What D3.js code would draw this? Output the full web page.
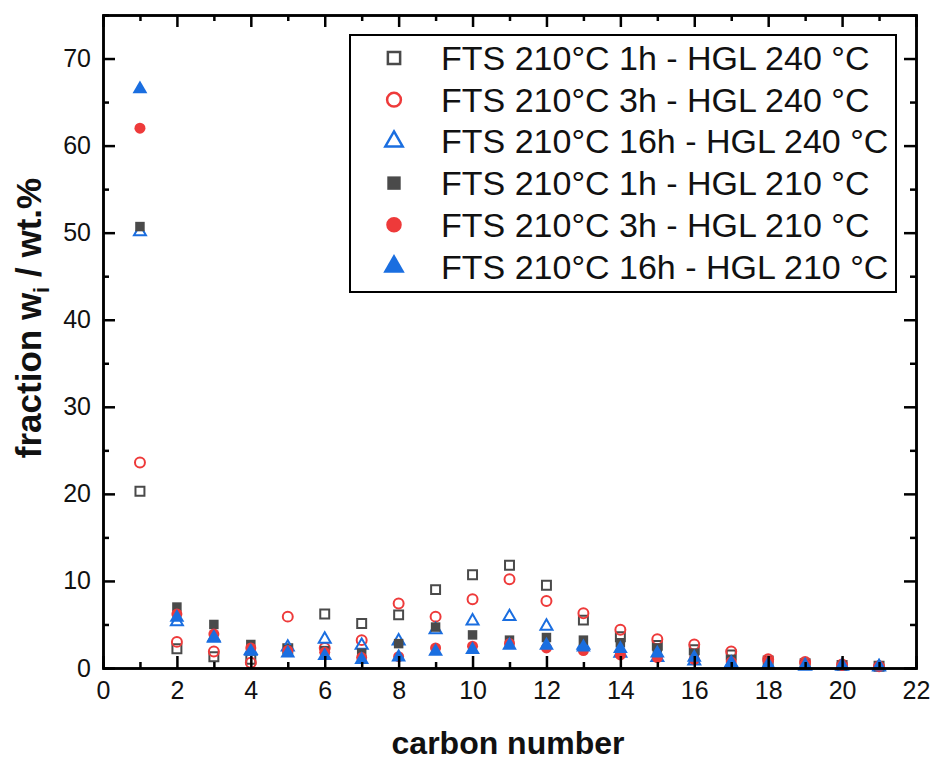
<!DOCTYPE html>
<html>
<head>
<meta charset="utf-8">
<script src="https://cdn.jsdelivr.net/npm/d3@7"></script>
<style>
  body { margin: 0; background: #fff; }
  svg { display: block; font-family: "Liberation Sans", Arial, sans-serif; }
</style>
</head>
<body>
<svg id="chart"></svg>
<script>
// carbon numbers and fractions (wt.%)
const carbon = [1, 2, 3, 4, 5, 6, 7, 8, 9, 10, 11, 12, 13, 14, 15, 16, 17, 18, 19, 20, 21]
const h1_240  = [20.3, 2.2, 1.3, 1.0, 2.2, 6.2, 5.1, 6.1, 9.0, 10.7, 11.8, 9.5, 5.5, 3.6, 2.6, 2.1, 1.5, 0.8, 0.5, 0.3, 0.2]
const h3_240  = [23.6, 3.0, 1.9, 0.6, 5.9, 2.3, 3.2, 7.4, 5.9, 7.9, 10.2, 7.7, 6.3, 4.4, 3.3, 2.7, 1.9, 1.0, 0.7, 0.4, 0.2]
const h16_240 = [50.1, 5.3, 3.4, 2.0, 2.4, 3.3, 2.6, 3.1, 4.4, 5.4, 5.9, 4.8, 2.6, 1.7, 1.2, 0.8, 0.5, 0.3, 0.2, 0.2, 0.1]
const h1_210  = [50.7, 7.0, 5.0, 2.7, 2.1, 2.0, 1.7, 2.8, 4.7, 3.8, 3.2, 3.5, 3.2, 2.9, 2.3, 1.7, 1.0, 0.6, 0.4, 0.3, 0.2]
const h3_210  = [62.0, 6.2, 3.9, 2.3, 2.0, 1.8, 1.2, 1.3, 2.3, 2.5, 2.8, 2.3, 2.0, 1.5, 1.2, 1.0, 0.7, 0.8, 0.5, 0.3, 0.2]
const h16_210 = [66.5, 5.8, 3.5, 1.9, 1.7, 1.4, 0.95, 1.25, 1.9, 2.1, 2.6, 2.6, 2.4, 2.2, 1.7, 1.2, 0.6, 0.4, 0.3, 0.3, 0.2]

const labels = [
    'FTS 210°C 1h - HGL 240 °C',
    'FTS 210°C 3h - HGL 240 °C',
    'FTS 210°C 16h - HGL 240 °C',
    'FTS 210°C 1h - HGL 210 °C',
    'FTS 210°C 3h - HGL 210 °C',
    'FTS 210°C 16h - HGL 210 °C'
]
const xTicks = d3.range(0, 23, 2)
const xMinor = d3.range(1, 22, 2)
const yTicks = d3.range(0, 71, 10)
const yMinor = d3.range(5, 76, 10)

const gray = '#4a4a4a'
const red = '#ee3a3a'
const blue = '#1a6ee0'

const series = [
    { name: labels[0], values: h1_240,  shape: d3.symbolSquare,   color: gray, open: true,  size: 80,  lsize: 150 },
    { name: labels[1], values: h3_240,  shape: d3.symbolCircle,   color: red,  open: true,  size: 78,  lsize: 150 },
    { name: labels[2], values: h16_240, shape: d3.symbolTriangle, color: blue, open: true,  size: 62,  lsize: 130 },
    { name: labels[3], values: h1_210,  shape: d3.symbolSquare,   color: gray, open: false, size: 90,  lsize: 180 },
    { name: labels[4], values: h3_210,  shape: d3.symbolCircle,   color: red,  open: false, size: 95,  lsize: 190 },
    { name: labels[5], values: h16_210, shape: d3.symbolTriangle, color: blue, open: false, size: 95,  lsize: 200 }
]

const W = 934
const H = 760
const margin = { top: 15, right: 18, bottom: 92, left: 103 }
const w = W - margin.left - margin.right
const h = H - margin.top - margin.bottom

const svg = d3.select('#chart')
    .attr('width', W)
    .attr('height', H)

const g = svg.append('g')
    .attr('transform', `translate(${margin.left}, ${margin.top})`)

const xScale = d3.scaleLinear().domain([0, 22]).range([0, w])
const yScale = d3.scaleLinear().domain([0, 75]).range([h, 0])

// points
series.forEach(s => {
    g.append('g')
        .selectAll('path')
        .data(s.values)
        .join('path')
        .attr('transform', (v, i) => `translate(${xScale(carbon[i])}, ${yScale(v)})`)
        .attr('d', d3.symbol().type(s.shape).size(s.size))
        .attr('fill', s.open ? 'none' : s.color)
        .attr('stroke', s.open ? s.color : 'none')
        .attr('stroke-width', 2)
})

// axes, ticks pointing inward on all four sides
const axisStyle = sel => {
    sel.selectAll('.domain').attr('stroke', '#000').attr('stroke-width', 2.5)
    sel.selectAll('.tick line').attr('stroke', '#000').attr('stroke-width', 2.5)
    sel.selectAll('text').attr('fill', '#111').style('font-size', '25px')
}

g.append('g')
    .attr('transform', `translate(0, ${h})`)
    .call(d3.axisBottom(xScale).tickValues(xTicks).tickSize(-12).tickSizeOuter(0).tickPadding(13))
    .call(axisStyle)
g.append('g')
    .attr('transform', `translate(0, ${h})`)
    .call(d3.axisBottom(xScale).tickValues(xMinor).tickSize(-6).tickFormat(''))
    .call(axisStyle)
g.append('g')
    .call(d3.axisTop(xScale).tickValues(xTicks).tickSize(-12).tickSizeOuter(0).tickFormat(''))
    .call(axisStyle)
g.append('g')
    .call(d3.axisTop(xScale).tickValues(xMinor).tickSize(-6).tickFormat(''))
    .call(axisStyle)

g.append('g')
    .call(d3.axisLeft(yScale).tickValues(yTicks).tickSize(-12).tickSizeOuter(0).tickPadding(12))
    .call(axisStyle)
g.append('g')
    .call(d3.axisLeft(yScale).tickValues(yMinor).tickSize(-6).tickFormat(''))
    .call(axisStyle)
g.append('g')
    .attr('transform', `translate(${w}, 0)`)
    .call(d3.axisRight(yScale).tickValues(yTicks).tickSize(-12).tickSizeOuter(0).tickFormat(''))
    .call(axisStyle)
g.append('g')
    .attr('transform', `translate(${w}, 0)`)
    .call(d3.axisRight(yScale).tickValues(yMinor).tickSize(-6).tickFormat(''))
    .call(axisStyle)

// axis titles
svg.append('text')
    .attr('x', 508)
    .attr('y', 754)
    .attr('text-anchor', 'middle')
    .style('font-size', '32px')
    .style('font-weight', 'bold')
    .attr('fill', '#111')
    .text('carbon number')

const yTitle = svg.append('text')
    .attr('transform', 'translate(41, 318) rotate(-90)')
    .attr('text-anchor', 'middle')
    .style('font-size', '35px')
    .style('font-weight', 'bold')
    .attr('fill', '#111')
yTitle.append('tspan').text('fraction w')
yTitle.append('tspan').attr('dy', 8).style('font-size', '22px').text('i')
yTitle.append('tspan').attr('dy', -8).text(' / wt.%')

// legend
const legend = svg.append('g')
legend.append('rect')
    .attr('x', 350).attr('y', 35)
    .attr('width', 546).attr('height', 257)
    .attr('fill', '#fff')
    .attr('stroke', '#000')
    .attr('stroke-width', 2)

series.forEach((s, i) => {
    const cy = 58 + i * 41.7
    legend.append('path')
        .attr('transform', `translate(394, ${cy})`)
        .attr('d', d3.symbol().type(s.shape).size(s.lsize))
        .attr('fill', s.open ? 'none' : s.color)
        .attr('stroke', s.open ? s.color : 'none')
        .attr('stroke-width', 2.5)
    legend.append('text')
        .attr('x', 441)
        .attr('y', cy + 12)
        .style('font-size', '34px')
        .attr('fill', '#111')
        .text(s.name)
})
</script>
</body>
</html>
